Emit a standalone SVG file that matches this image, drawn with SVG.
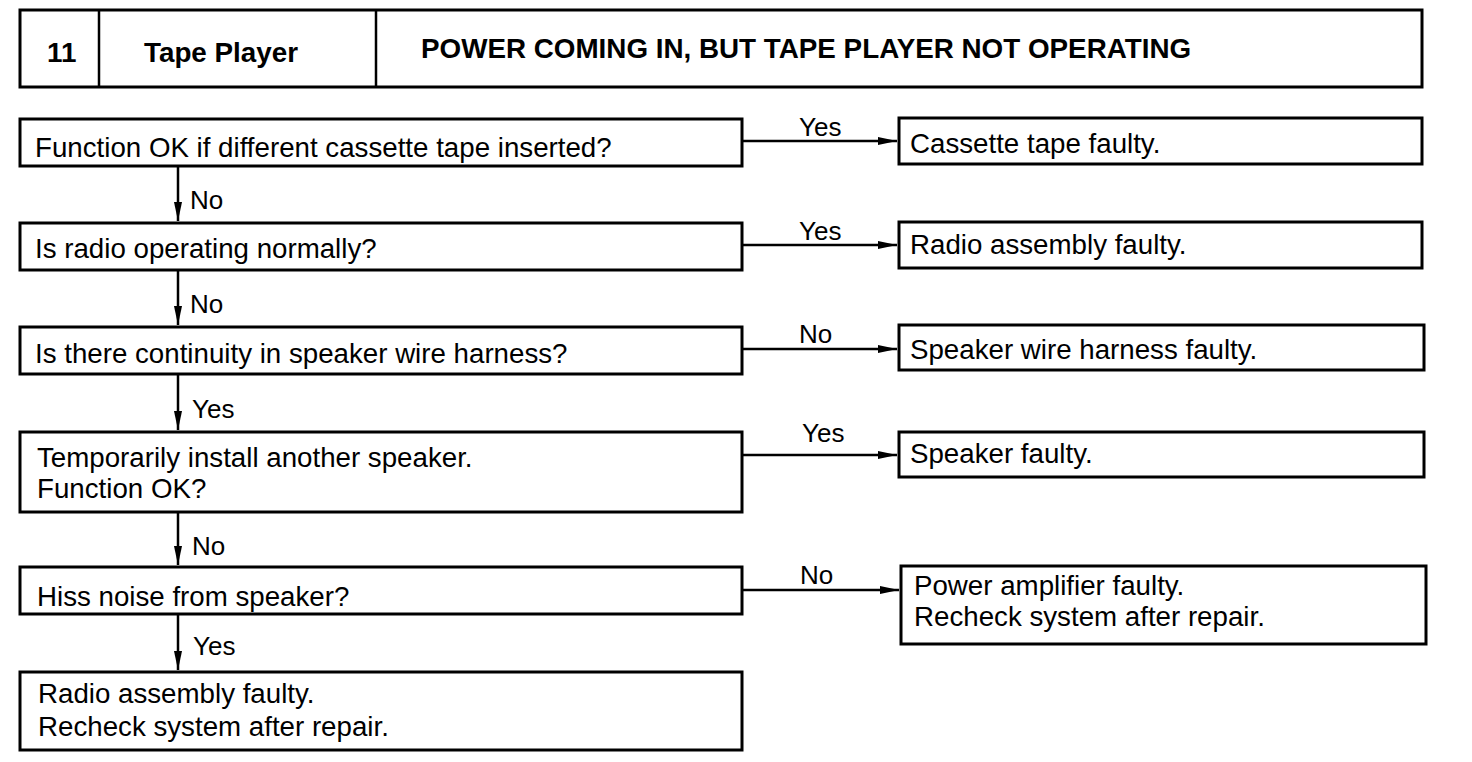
<svg xmlns="http://www.w3.org/2000/svg" width="1472" height="762" viewBox="0 0 1472 762">
<style>
  .box{fill:#fff;stroke:#000;stroke-width:3}
  .t{font-family:"Liberation Sans",Arial,sans-serif;font-size:27.7px;fill:#000}
  .h{font-family:"Liberation Sans",Arial,sans-serif;font-size:27.8px;font-weight:bold;fill:#000}
  .lbl{font-family:"Liberation Sans",Arial,sans-serif;font-size:26px;fill:#000}
  .c{stroke:#000;stroke-width:2.5;fill:none}
</style>
<defs>
  <marker id="ah" markerUnits="userSpaceOnUse" markerWidth="20" markerHeight="10" refX="19" refY="5" orient="auto">
    <path d="M0,1 L19,5 L0,9 Z" fill="#000"/>
  </marker>
</defs>
<rect width="1472" height="762" fill="#fff"/>
<g id="header">
  <rect class="box" x="20" y="10" width="1402" height="77"/>
  <line x1="99" y1="10" x2="99" y2="87" stroke="#000" stroke-width="2.5"/>
  <line x1="376" y1="10" x2="376" y2="87" stroke="#000" stroke-width="2.5"/>
  <text class="h" x="47" y="62">11</text>
  <text class="h" x="144" y="62">Tape Player</text>
  <text class="h" x="421" y="58">POWER COMING IN, BUT TAPE PLAYER NOT OPERATING</text>
</g>
<g id="q1">
  <rect class="box" x="20" y="119" width="722" height="47"/>
  <text class="t" x="35" y="157">Function OK if different cassette tape inserted?</text>
</g>
<g id="r1">
  <rect class="box" x="899" y="118" width="523" height="46"/>
  <text class="t" x="910" y="153">Cassette tape faulty.</text>
</g>
<g id="q2">
  <rect class="box" x="20" y="223" width="722" height="47"/>
  <text class="t" x="35" y="258">Is radio operating normally?</text>
</g>
<g id="r2">
  <rect class="box" x="899" y="222" width="523" height="46"/>
  <text class="t" x="910" y="254">Radio assembly faulty.</text>
</g>
<g id="q3">
  <rect class="box" x="20" y="327" width="722" height="47"/>
  <text class="t" x="35" y="363">Is there continuity in speaker wire harness?</text>
</g>
<g id="r3">
  <rect class="box" x="899" y="325" width="525" height="45"/>
  <text class="t" x="910" y="359">Speaker wire harness faulty.</text>
</g>
<g id="q4">
  <rect class="box" x="20" y="432" width="722" height="80"/>
  <text class="t" x="37" y="467">Temporarily install another speaker.</text>
  <text class="t" x="37" y="498">Function OK?</text>
</g>
<g id="r4">
  <rect class="box" x="899" y="432" width="525" height="45"/>
  <text class="t" x="910" y="463">Speaker faulty.</text>
</g>
<g id="q5">
  <rect class="box" x="20" y="567" width="722" height="47"/>
  <text class="t" x="37" y="606">Hiss noise from speaker?</text>
</g>
<g id="r5">
  <rect class="box" x="901" y="566" width="525" height="78"/>
  <text class="t" x="914" y="595">Power amplifier faulty.</text>
  <text class="t" x="914" y="626">Recheck system after repair.</text>
</g>
<g id="r6">
  <rect class="box" x="20" y="672" width="722" height="78"/>
  <text class="t" x="38" y="703">Radio assembly faulty.</text>
  <text class="t" x="38" y="736">Recheck system after repair.</text>
</g>
<g id="connectors">
  <line class="c" x1="742" y1="141" x2="897" y2="141" marker-end="url(#ah)"/>
  <text class="lbl" x="799" y="136">Yes</text>
  <line class="c" x1="742" y1="245" x2="897" y2="245" marker-end="url(#ah)"/>
  <text class="lbl" x="799" y="240">Yes</text>
  <line class="c" x1="742" y1="349" x2="897" y2="349" marker-end="url(#ah)"/>
  <text class="lbl" x="799" y="343">No</text>
  <line class="c" x1="742" y1="455" x2="897" y2="455" marker-end="url(#ah)"/>
  <text class="lbl" x="802" y="442">Yes</text>
  <line class="c" x1="742" y1="590" x2="899" y2="590" marker-end="url(#ah)"/>
  <text class="lbl" x="800" y="584">No</text>

  <line class="c" x1="178" y1="166" x2="178" y2="221" marker-end="url(#ah)"/>
  <text class="lbl" x="190" y="209">No</text>
  <line class="c" x1="178" y1="270" x2="178" y2="325" marker-end="url(#ah)"/>
  <text class="lbl" x="190" y="313">No</text>
  <line class="c" x1="178" y1="374" x2="178" y2="430" marker-end="url(#ah)"/>
  <text class="lbl" x="192" y="418">Yes</text>
  <line class="c" x1="178" y1="512" x2="178" y2="565" marker-end="url(#ah)"/>
  <text class="lbl" x="192" y="555">No</text>
  <line class="c" x1="178" y1="614" x2="178" y2="670" marker-end="url(#ah)"/>
  <text class="lbl" x="193" y="655">Yes</text>
</g>
</svg>
